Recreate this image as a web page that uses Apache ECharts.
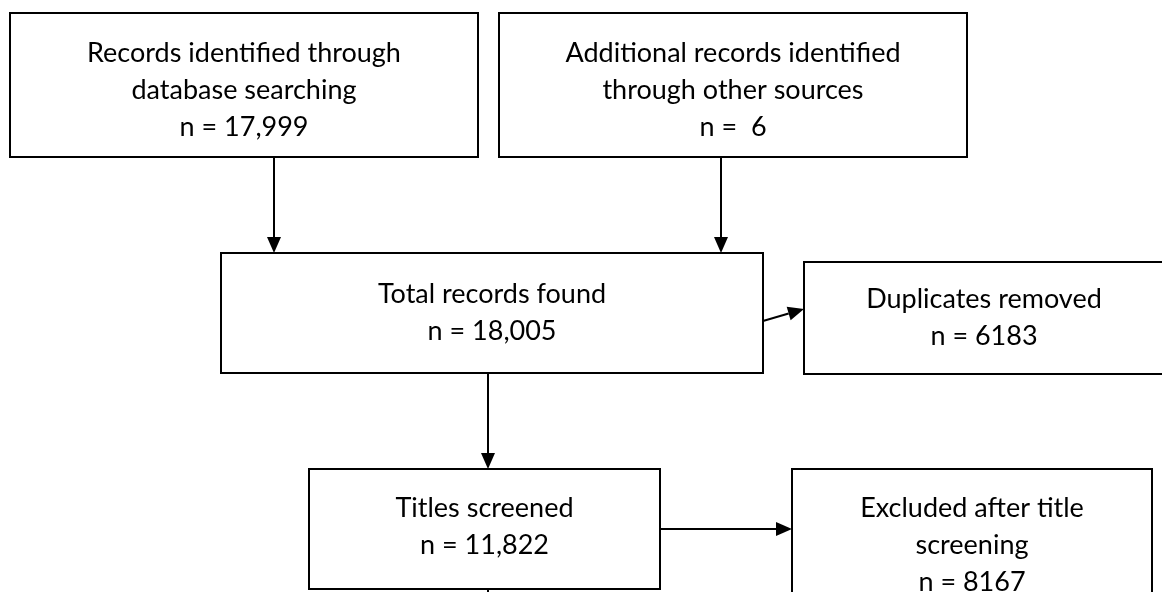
<!DOCTYPE html>
<html>
<head>
<meta charset="utf-8">
<title>Flow diagram</title>
<script src="https://cdn.jsdelivr.net/npm/echarts@6/dist/echarts.min.js"></script>
<style>
  html, body { margin: 0; padding: 0; background: #fff; }
  #main { width: 1162px; height: 592px; }
</style>
</head>
<body>
<div id="main"></div>
<script>
// step titles and counts of each box
var boxTitles = [
  'Records identified through\ndatabase searching',
  'Additional records identified\nthrough other sources',
  'Total records found',
  'Duplicates removed',
  'Titles screened',
  'Excluded after title\nscreening'
];
var boxCounts = ['n = 17,999', 'n =  6', 'n = 18,005', 'n = 6183', 'n = 11,822', 'n = 8167'];

// layout of the boxes: [left, top, right, bottom, text shift] in page units
var boxLayout = [
  [10, 13, 478, 157, 5],
  [499, 13, 967, 157, 5],
  [221, 253, 763, 373, 0],
  [804, 262, 1164, 374, 0],
  [309, 469, 660, 589, -2],
  [792, 469, 1152, 621, 0]
];
// arrows: [x1, y1, x2, y2, hasHead]
var arrowLayout = [
  [274, 157, 274, 253, 1],
  [721, 157, 721, 253, 1],
  [763, 321, 804, 309, 1],
  [488, 373, 488, 469, 1],
  [660, 529, 792, 529, 1],
  [488, 589, 488, 620, 0]
];

var boxData = boxLayout.map(function (b, i) {
  return b.concat([i]);
});

var chart = echarts.init(document.getElementById('main'));

var option = {
  backgroundColor: '#ffffff',
  animation: false,
  grid: { left: 0, right: 0, top: 0, bottom: 0 },
  xAxis: { type: 'value', min: 0, max: 1162, show: false },
  yAxis: { type: 'value', min: 0, max: 592, inverse: true, show: false },
  series: [
    {
      type: 'custom',
      clip: false,
      data: boxData,
      encode: { x: [0, 2], y: [1, 3] },
      renderItem: function (params, api) {
        var p0 = api.coord([api.value(0), api.value(1)]);
        var p1 = api.coord([api.value(2), api.value(3)]);
        var i = api.value(5);
        return {
          type: 'group',
          children: [
            {
              type: 'rect',
              shape: { x: p0[0], y: p0[1], width: p1[0] - p0[0], height: p1[1] - p0[1] },
              style: { fill: 'none', stroke: '#000', lineWidth: 2 }
            },
            {
              type: 'text',
              x: (p0[0] + p1[0]) / 2,
              y: (p0[1] + p1[1]) / 2 + api.value(4),
              style: {
                text: boxTitles[i] + '\n' + boxCounts[i],
                fill: '#000',
                fontFamily: 'Lato',
                fontSize: 27,
                lineHeight: 37,
                align: 'center',
                verticalAlign: 'middle'
              }
            }
          ]
        };
      }
    },
    {
      type: 'custom',
      clip: false,
      data: arrowLayout,
      encode: { x: [0, 2], y: [1, 3] },
      renderItem: function (params, api) {
        var a = api.coord([api.value(0), api.value(1)]);
        var b = api.coord([api.value(2), api.value(3)]);
        var head = api.value(4);
        var dx = b[0] - a[0], dy = b[1] - a[1];
        var len = Math.sqrt(dx * dx + dy * dy);
        var ux = dx / len, uy = dy / len;
        var hl = head ? 16 : 0, hw = 7;
        var base = [b[0] - ux * hl, b[1] - uy * hl];
        var children = [{
          type: 'line',
          shape: { x1: a[0], y1: a[1], x2: base[0], y2: base[1] },
          style: { stroke: '#000', lineWidth: 2 }
        }];
        if (head) {
          children.push({
            type: 'polygon',
            shape: { points: [
              [b[0], b[1]],
              [base[0] - uy * hw, base[1] + ux * hw],
              [base[0] + uy * hw, base[1] - ux * hw]
            ] },
            style: { fill: '#000' }
          });
        }
        return { type: 'group', children: children };
      }
    }
  ]
};

chart.setOption(option);
</script>
</body>
</html>
